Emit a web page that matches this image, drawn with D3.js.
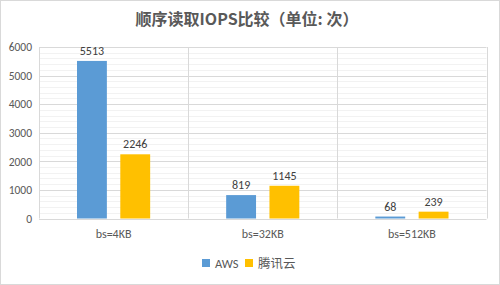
<!DOCTYPE html>
<html>
<head>
<meta charset="utf-8">
<script src="https://cdn.jsdelivr.net/npm/d3@7"></script>
<style>
  body { margin: 0; background: #fff; }
  svg { display: block; }
</style>
</head>
<body>
<div class="chart"></div>
<script>
// data
const categories = ['bs=4KB', 'bs=32KB', 'bs=512KB'];
const seriesNames = ['AWS', '腾讯云'];
const awsValues = [5513, 819, 68];
const tencentValues = [2246, 1145, 239];
const yTicks = [0, 1000, 2000, 3000, 4000, 5000, 6000];

const colors = ['#5b9bd5', '#ffc000'];
const fontStack = 'Carlito, "Open Sans", "Noto Sans CJK SC", sans-serif';

const width = 500, height = 285;
const margin = { top: 47, right: 13.5, bottom: 66, left: 39 };

const svg = d3.select('.chart')
  .append('svg')
  .attr('width', width)
  .attr('height', height);

// outer border
svg.append('rect')
  .attr('x', 0.5).attr('y', 0.5)
  .attr('width', width - 1).attr('height', height - 1)
  .attr('fill', '#fff')
  .attr('stroke', '#d9d9d9');

// title
svg.append('text')
  .attr('x', 247)
  .attr('y', 25)
  .attr('text-anchor', 'middle')
  .style('font-family', '"Noto Sans CJK SC", sans-serif')
  .style('font-weight', 'bold')
  .style('font-size', '16px')
  .attr('fill', '#595959')
  .text('顺序读取IOPS比较（单位: 次）');

const x0 = d3.scaleBand()
  .domain(categories)
  .range([margin.left, width - margin.right])
  .paddingInner(0)
  .paddingOuter(0);

const x1 = d3.scaleBand()
  .domain(seriesNames)
  .range([38, x0.bandwidth() - 38])
  .paddingInner(0.31);

const y = d3.scaleLinear()
  .domain([0, 6000])
  .range([height - margin.bottom - 0.5, margin.top]);

// minor gridlines
svg.append('g')
  .selectAll('line')
  .data(d3.range(200, 6001, 200).filter(d => d % 1000 !== 0))
  .join('line')
  .attr('x1', margin.left).attr('x2', width - margin.right)
  .attr('y1', d => Math.round(y(d)) + 0.5)
  .attr('y2', d => Math.round(y(d)) + 0.5)
  .attr('stroke', '#f2f2f2');

// major gridlines
svg.append('g')
  .selectAll('line')
  .data(yTicks)
  .join('line')
  .attr('x1', margin.left).attr('x2', width - margin.right)
  .attr('y1', d => Math.round(y(d)) + 0.5)
  .attr('y2', d => Math.round(y(d)) + 0.5)
  .attr('stroke', '#d9d9d9');

// vertical category separators
svg.append('g')
  .selectAll('line')
  .data([...categories.map(c => x0(c)), width - margin.right])
  .join('line')
  .attr('x1', d => Math.round(d) + 0.5).attr('x2', d => Math.round(d) + 0.5)
  .attr('y1', y(6000)).attr('y2', y(0))
  .attr('stroke', '#d9d9d9');

// y axis labels
const yAxis = d3.axisLeft(y).tickValues(yTicks).tickFormat(d3.format('d')).tickSize(0).tickPadding(7);
const yg = svg.append('g')
  .attr('transform', `translate(${margin.left},0)`)
  .call(yAxis);
yg.select('.domain').remove();
yg.selectAll('text')
  .style('font-family', fontStack)
  .style('font-size', '11.5px')
  .attr('fill', '#595959');

// bars
const rows = categories.map((c, i) => ({
  cat: c,
  vals: [{ s: seriesNames[0], v: awsValues[i], c: colors[0] },
         { s: seriesNames[1], v: tencentValues[i], c: colors[1] }]
}));

const groups = svg.append('g')
  .selectAll('g')
  .data(rows)
  .join('g')
  .attr('transform', d => `translate(${x0(d.cat)},0)`);

groups.selectAll('rect')
  .data(d => d.vals)
  .join('rect')
  .attr('x', d => x1(d.s))
  .attr('width', x1.bandwidth())
  .attr('y', d => y(d.v))
  .attr('height', d => y(0) - y(d.v))
  .attr('fill', d => d.c);

groups.selectAll('text')
  .data(d => d.vals)
  .join('text')
  .attr('x', d => x1(d.s) + x1.bandwidth() / 2)
  .attr('y', d => y(d.v) - 6)
  .attr('text-anchor', 'middle')
  .style('font-family', fontStack)
  .style('font-size', '12px')
  .attr('fill', '#404040')
  .text(d => d.v);

// x axis labels
const xAxis = d3.axisBottom(x0).tickSize(0).tickPadding(11);
const xg = svg.append('g')
  .attr('transform', `translate(0,${y(0)})`)
  .call(xAxis);
xg.select('.domain').remove();
xg.selectAll('text')
  .style('font-family', fontStack)
  .style('font-size', '12px')
  .attr('fill', '#595959');

// legend
const legendItems = [
  { name: seriesNames[0], color: colors[0], x: 202 },
  { name: seriesNames[1], color: colors[1], x: 245 }
];
const legend = svg.append('g')
  .selectAll('g')
  .data(legendItems)
  .join('g')
  .attr('transform', d => `translate(${d.x},259)`);
legend.append('rect')
  .attr('width', 8).attr('height', 8)
  .attr('fill', d => d.color);
legend.append('text')
  .attr('x', 13).attr('y', 8.5)
  .style('font-family', fontStack)
  .style('font-size', '12.5px')
  .attr('fill', '#595959')
  .text(d => d.name);
</script>
</body>
</html>
